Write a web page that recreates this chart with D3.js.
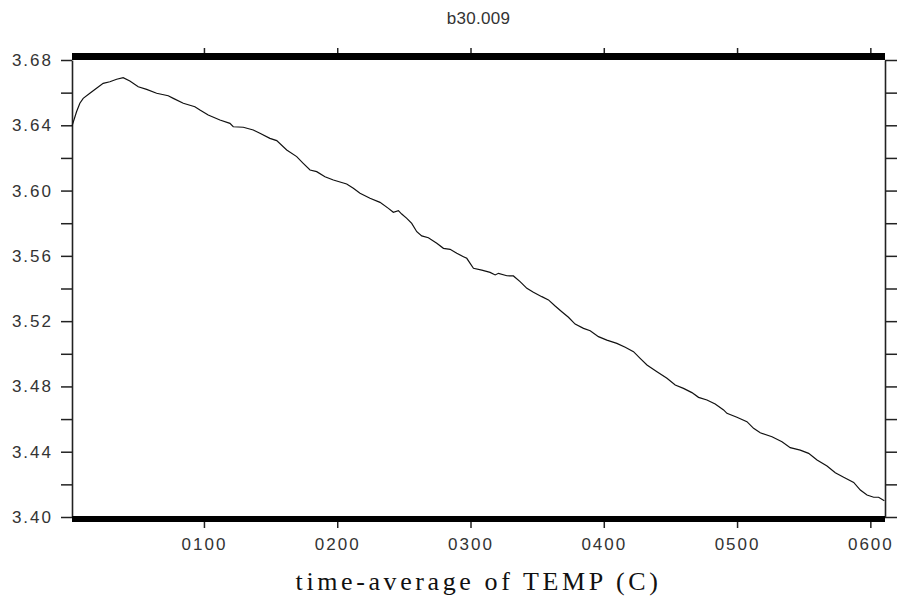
<!DOCTYPE html>
<html><head><meta charset="utf-8">
<script src="https://cdn.jsdelivr.net/npm/d3@7"></script>
<style>body{margin:0;background:#fff} svg{display:block}</style>
</head><body><svg id="c" width="902" height="608"></svg>
<script>
const title = "b30.009";
const xLabel = "time-average of TEMP (C)";
const years = [1, 4.4, 6.9, 9.4, 14.4, 19.4, 24.4, 29.4, 34.5, 39.4, 44.4, 50.7, 57, 64.5, 73.2, 77, 84.5, 93.2, 97, 103.2,
  112, 119.5, 122, 129.5, 137, 142, 149.5, 154.6, 162.1, 169.6, 174.5, 179.6, 184.6, 190.8, 197.1,
  207.1, 212.1, 217.1, 224.6, 232.1, 238.4, 242.1, 245.9, 248.4, 252.2, 255.9, 259.7, 263.4, 268.4, 274.7, 279.7, 284.7, 289.7, 294.7,
  297.2, 302.2, 308.5, 314.7, 318.5, 321, 327.3, 332.2, 337.2, 342.3, 347.2, 353.5, 358.5, 363.5, 368.5, 373.5, 378.5, 384.8, 389.8,
  396, 402.3, 409.8, 416.1, 422.3, 427.3, 432.4, 439.9, 447.4, 453.6, 459.8, 466.1, 471.1, 477.4, 483.6, 489.9,
  492.4, 499.9, 507.4, 512.4, 517.4, 526.2, 533.7, 539.9, 547.4, 553.7, 560, 567.5, 573.7, 580, 587.5, 592.5, 597.5, 602.5, 606.2, 610.5];
const temps = [3.6395, 3.6483, 3.6535, 3.6565, 3.6596, 3.6627, 3.6657, 3.6667, 3.6682, 3.6692, 3.6671, 3.6636, 3.6620, 3.6596, 3.6581, 3.6565, 3.6535, 3.6514, 3.6494, 3.6463,
  3.6432, 3.6412, 3.6391, 3.6388, 3.6371, 3.6351, 3.6320, 3.6306, 3.6249, 3.6208, 3.6167, 3.6126, 3.6116, 3.6085, 3.6065,
  3.6040, 3.6014, 3.5983, 3.5953, 3.5928, 3.5891, 3.5867, 3.5877, 3.5856, 3.5830, 3.5799, 3.5748, 3.5722, 3.5711, 3.5677, 3.5646, 3.5640, 3.5616, 3.5595,
  3.5585, 3.5524, 3.5513, 3.5499, 3.5483, 3.5493, 3.5478, 3.5477, 3.5442, 3.5401, 3.5377, 3.5350, 3.5330, 3.5293, 3.5258, 3.5224, 3.5182, 3.5156, 3.5141,
  3.5105, 3.5084, 3.5064, 3.5040, 3.5013, 3.4972, 3.4931, 3.4890, 3.4850, 3.4809, 3.4788, 3.4762, 3.4733, 3.4717, 3.4692, 3.4656,
  3.4635, 3.4611, 3.4584, 3.4543, 3.4516, 3.4492, 3.4461, 3.4425, 3.4410, 3.4390, 3.4349, 3.4312, 3.4271, 3.4243, 3.4212, 3.4165, 3.4135, 3.4121, 3.4121, 3.4100];
const xTickValues = [100, 200, 300, 400, 500, 600];
const xTickLabels = ["0100", "0200", "0300", "0400", "0500", "0600"];
const yTickValues = [3.40, 3.42, 3.44, 3.46, 3.48, 3.50, 3.52, 3.54, 3.56, 3.58, 3.60, 3.62, 3.64, 3.66, 3.68];
const yTickLabels = ["3.40", "", "3.44", "", "3.48", "", "3.52", "", "3.56", "", "3.60", "", "3.64", "", "3.68"];

const svg = d3.select("#c");
const L = 72, R = 885, T = 60, B = 517;
const x = d3.scaleLinear().domain([1, 611]).range([L, R]);
const y = d3.scaleLinear().domain([3.40, 3.68]).range([B, T]);
const font = "'Liberation Sans', Arial, sans-serif";
const ink = "#222";

// left axis
const gl = svg.append("g").attr("transform", `translate(${L},0)`)
  .call(d3.axisLeft(y).tickValues(yTickValues).tickSize(11).tickSizeOuter(0).tickPadding(8)
    .tickFormat((d, i) => yTickLabels[i]));
// right axis
const gr = svg.append("g").attr("transform", `translate(${R},0)`)
  .call(d3.axisRight(y).tickValues(yTickValues).tickSize(12).tickSizeOuter(0).tickFormat(""));
// top axis ticks
const gt = svg.append("g").attr("transform", `translate(0,${T - 7})`)
  .call(d3.axisTop(x).tickValues(xTickValues).tickSize(5).tickSizeOuter(0).tickFormat(""));
// bottom axis
const gb = svg.append("g").attr("transform", `translate(0,${B + 5})`)
  .call(d3.axisBottom(x).tickValues(xTickValues).tickSize(6).tickSizeOuter(0).tickPadding(10)
    .tickFormat((d, i) => xTickLabels[i]));
gt.select(".domain").remove();
gb.select(".domain").remove();
[gl, gr, gt, gb].forEach(g => {
  g.selectAll(".domain").attr("stroke", ink).attr("stroke-width", 1.6);
  g.selectAll(".tick line").attr("stroke", ink).attr("stroke-width", 1.5);
  g.selectAll("text").attr("font-family", font).attr("font-size", 17)
    .attr("fill", "#333").attr("letter-spacing", "2px");
});

// thick top & bottom frame bars
svg.append("rect").attr("x", x(1)).attr("y", T - 7).attr("width", x(611) - x(1)).attr("height", 7).attr("fill", "#000");
svg.append("rect").attr("x", x(1)).attr("y", B - 1).attr("width", x(611) - x(1)).attr("height", 6).attr("fill", "#000");

// data line
const pts = years.map((d, i) => [d, temps[i]]);
svg.append("path").datum(pts)
  .attr("fill", "none").attr("stroke", "#111").attr("stroke-width", 1.2)
  .attr("d", d3.line().x(d => x(d[0])).y(d => y(d[1])));

// title
svg.append("text").attr("x", (L + R) / 2).attr("y", 24).attr("text-anchor", "middle")
  .attr("font-family", font).attr("font-size", 17).attr("fill", "#333").attr("letter-spacing", "0.3px")
  .text(title);
// x label
svg.append("text").attr("x", (L + R) / 2).attr("y", 590).attr("text-anchor", "middle")
  .attr("font-family", "'Liberation Serif', 'Times New Roman', serif").attr("font-size", 26)
  .attr("letter-spacing", "3.6px").attr("fill", "#111")
  .text(xLabel);
</script></body></html>
